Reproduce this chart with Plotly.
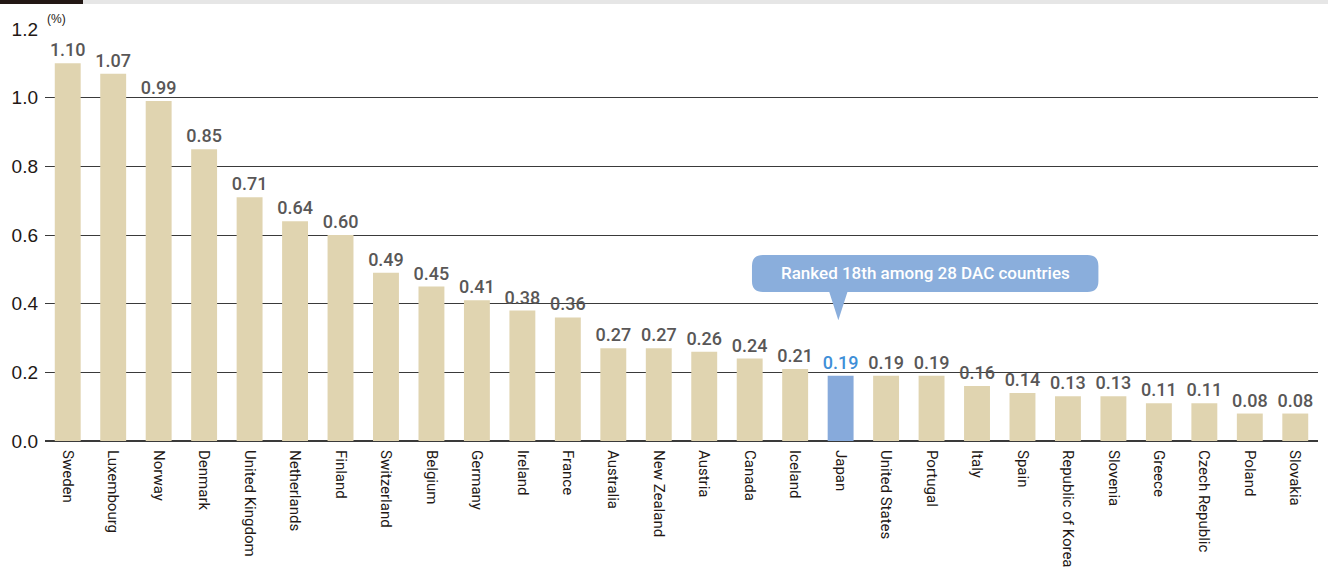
import plotly.graph_objects as go

countries = ["Sweden", "Luxembourg", "Norway", "Denmark", "United Kingdom", "Netherlands",
             "Finland", "Switzerland", "Belgium", "Germany", "Ireland", "France", "Australia",
             "New Zealand", "Austria", "Canada", "Iceland", "Japan", "United States", "Portugal",
             "Italy", "Spain", "Republic of Korea", "Slovenia", "Greece", "Czech Republic",
             "Poland", "Slovakia"]
values = [1.10, 1.07, 0.99, 0.85, 0.71, 0.64, 0.60, 0.49, 0.45, 0.41, 0.38, 0.36, 0.27,
          0.27, 0.26, 0.24, 0.21, 0.19, 0.19, 0.19, 0.16, 0.14, 0.13, 0.13, 0.11, 0.11,
          0.08, 0.08]
highlight = "Japan"
y_ticks = [0.0, 0.2, 0.4, 0.6, 0.8, 1.0, 1.2]
callout_text = "Ranked 18th among 28 DAC countries"

BEIGE = "#e0d4b0"
BLUE_BAR = "#87aadb"
BLUE_TXT = "#3f8fd8"
GRAY_TXT = "#595757"
DARK = "#231815"

bar_colors = [BLUE_BAR if c == highlight else BEIGE for c in countries]
text_colors = [BLUE_TXT if c == highlight else GRAY_TXT for c in countries]

fig = go.Figure()
fig.add_trace(go.Bar(
    x=list(range(len(countries))), y=values,
    marker=dict(color=bar_colors, line=dict(width=0)),
    text=[f"{v:.2f}" for v in values],
    textposition="outside",
    constraintext="none",
    textfont=dict(family="Roboto", size=18, color=text_colors, weight=500),
    cliponaxis=False,
    hoverinfo="skip",
))

fig.update_layout(
    width=1328, height=570,
    margin=dict(l=45, r=10, t=29, b=129),
    paper_bgcolor="white", plot_bgcolor="white",
    showlegend=False,
    bargap=0.43,
    font=dict(family="Liberation Sans", color=DARK),
    xaxis=dict(
        tickmode="array", tickvals=list(range(len(countries))), ticktext=countries,
        range=[-0.5, len(countries) - 0.5],
        tickangle=90,
        tickfont=dict(family="Roboto", size=15, color=DARK),
        showgrid=False, zeroline=False, showline=False, ticks="",
        ticklabelstandoff=8, automargin=False,
    ),
    yaxis=dict(
        range=[0, 1.2], tickvals=y_ticks, ticktext=[f"{t:.1f}" for t in y_ticks],
        tickfont=dict(family="Liberation Sans", size=19, color=DARK),
        showgrid=True, gridcolor="#3a3a3a", gridwidth=1,
        zeroline=True, zerolinecolor="#3a3a3a", zerolinewidth=2,
        showline=False, ticks="", ticklabelstandoff=6, automargin=False,
    ),
)

# top header band
fig.add_shape(type="rect", xref="paper", yref="paper", x0=-45/1273, x1=38/1273,
              y0=1 + 25/412, y1=1 + 29/412, fillcolor=DARK, line=dict(width=0), layer="above")
fig.add_shape(type="rect", xref="paper", yref="paper", x0=38/1273, x1=1 + 10/1273,
              y0=1 + 25/412, y1=1 + 29/412, fillcolor="#e6e6e6", line=dict(width=0), layer="above")

fig.add_annotation(text="(%)", xref="paper", yref="paper", x=0, y=1, xanchor="left",
                   yanchor="bottom", showarrow=False, yshift=1,
                   font=dict(family="Liberation Sans", size=12, color=DARK))

# callout (rounded box + pointer)
x0, x1 = 15.05, 22.67
y0, y1 = 0.434, 0.542
rx, ry = 0.24, 0.032
px0, px1, ptx, pty = 16.75, 17.15, 16.95, 0.352
path = (f"M {x0+rx},{y1} L {x1-rx},{y1} Q {x1},{y1} {x1},{y1-ry} "
        f"L {x1},{y0+ry} Q {x1},{y0} {x1-rx},{y0} "
        f"L {px1},{y0} L {ptx},{pty} L {px0},{y0} "
        f"L {x0+rx},{y0} Q {x0},{y0} {x0},{y0+ry} "
        f"L {x0},{y1-ry} Q {x0},{y1} {x0+rx},{y1} Z")
fig.add_shape(type="path", xref="x", yref="y", path=path,
              fillcolor="#8aaedc", line=dict(width=0), layer="above")
fig.add_annotation(text=callout_text, x=(x0 + x1) / 2, y=(y0 + y1) / 2, xref="x", yref="y",
                   showarrow=False,
                   font=dict(family="Roboto", size=17, color="white", weight=500))

fig.write_html("out.html", config={"displayModeBar": False},
               post_script="document.body.style.margin='0';")
